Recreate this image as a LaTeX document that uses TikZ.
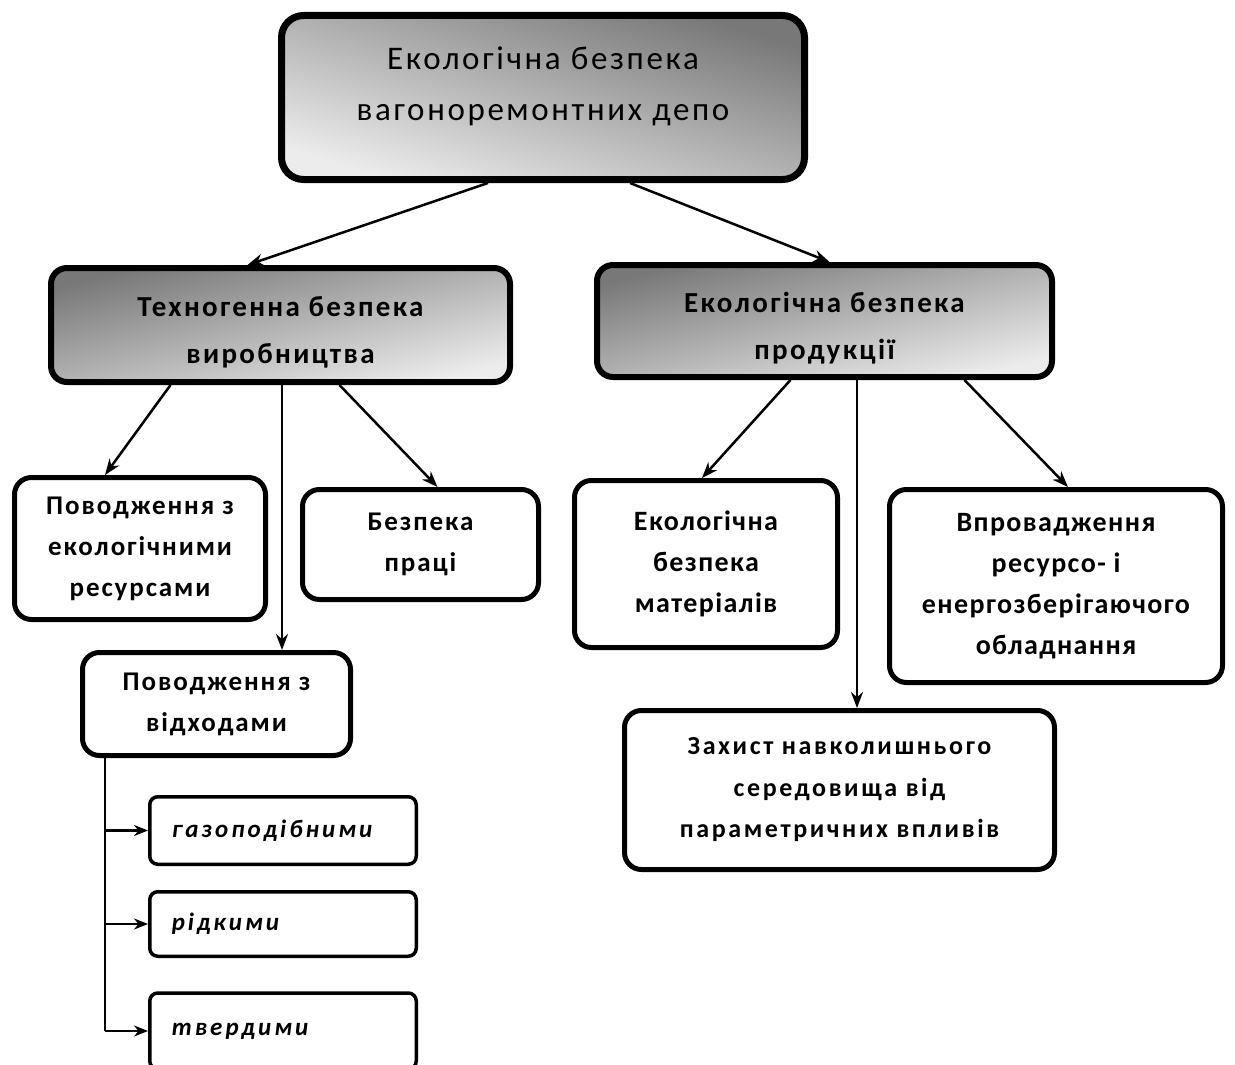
\documentclass[tikz,border=0pt]{standalone}
\usepackage{fontspec}
\setmainfont{Carlito}
\newfontfamily\titlefamily[LetterSpace=8]{Carlito}
\newfontfamily\headfamily[LetterSpace=8]{Carlito}
\newfontfamily\itemfamily[LetterSpace=7]{Carlito}
\newfontfamily\wideitemfamily[LetterSpace=5]{Carlito}
\newfontfamily\envfamily[LetterSpace=10]{Carlito}
\newfontfamily\kindfamily[LetterSpace=12]{Carlito}
\usetikzlibrary{arrows.meta}

\definecolor{shadedark}{RGB}{120,120,120}
\definecolor{shadelight}{RGB}{236,236,236}

\newcommand{\titlefont}{\titlefamily\fontsize{33}{51}\selectfont}
\newcommand{\headfont}{\headfamily\bfseries\fontsize{29}{47}\selectfont}
\newcommand{\itemfont}{\itemfamily\bfseries\fontsize{27}{41}\selectfont}
\newcommand{\wideitemfont}{\wideitemfamily\bfseries\fontsize{28}{41}\selectfont}
\newcommand{\envfont}{\envfamily\bfseries\fontsize{26}{41.5}\selectfont}
\newcommand{\kindfont}{\kindfamily\bfseries\itshape\fontsize{25}{30}\selectfont}

\tikzset{
    topbox/.style={draw, line width=7pt, rounded corners=22pt, top color=shadedark, bottom color=shadelight, shading angle=-17},
    headbox/.style={draw, line width=6pt, rounded corners=16pt, top color=shadedark, bottom color=shadelight, shading angle=14, align=center, font=\headfont},
    itembox/.style={draw, line width=5pt, rounded corners=17pt, fill=white, align=center, font=\itemfont},
    kindbox/.style={draw, line width=3.5pt, rounded corners=8pt, fill=white, align=left, inner xsep=22pt, text width=222.5pt, font=\kindfont},
    arr/.style={line width=2.5pt, -{Stealth[length=16pt, width=12pt]}},
    smallarr/.style={line width=2.5pt, -{Stealth[length=14pt, width=11pt]}}
}

\begin{document}
\begin{tikzpicture}[x=1pt, y=-1pt]
        \useasboundingbox (0, 0) rectangle (1235, 1065);

        \node [topbox, minimum width=523pt, minimum height=164pt] (top) at (543, 97.5) {};
        \node [font=\titlefont, align=center] (title) at (543, 86) {Екологічна безпека\\вагоноремонтних депо};

        \node [headbox, minimum width=459pt, minimum height=114pt, text height=81pt] (tech) at (280.5, 325) {Техногенна безпека\\виробництва};
        \node [headbox, minimum width=455pt, minimum height=112pt, text height=81pt] (prod) at (824.5, 321) {Екологічна безпека\\продукції};

        \node [itembox, minimum width=251pt, minimum height=142pt] (res) at (140, 548.5) {Поводження з\\екологічними\\ресурсами};
        \node [itembox, minimum width=236pt, minimum height=110pt] (labour) at (420.5, 544.5) {Безпека\\праці};
        \node [itembox, minimum width=268pt, minimum height=103pt] (waste) at (216.5, 704) {Поводження з\\відходами};

        \node [kindbox, minimum height=67.5pt] (gas) at (283, 830.5) {газоподібними};
        \node [kindbox, minimum height=64.5pt] (liquid) at (283, 924) {рідкими};
        \node [kindbox, minimum height=76pt] (solid) at (283, 1031) {твердими};

        \node [itembox, font=\wideitemfont, minimum width=263pt, minimum height=167pt] (mat) at (706, 564) {Екологічна\\безпека\\матеріалів};
        \node [itembox, font=\wideitemfont, minimum width=333pt, minimum height=193pt] (impl) at (1056, 586) {Впровадження\\ресурсо- і\\енергозберігаючого\\обладнання};
        \node [itembox, font=\envfont, minimum width=430pt, minimum height=159pt] (env) at (839.5, 790) {Захист навколишнього\\середовища від\\параметричних впливів};

        \draw [arr] ([xshift=-55pt]top.south) -- ([xshift=-33pt]tech.north);
        \draw [arr] ([xshift=87pt]top.south) -- ([xshift=5pt]prod.north);

        \draw [arr] ([xshift=-110pt]tech.south) -- ([xshift=-35pt]res.north);
        \draw [arr] ([xshift=1.5pt]tech.south) -- ([xshift=1.5pt]tech.south |- waste.north);
        \draw [arr] ([xshift=59pt]tech.south) -- ([xshift=17pt]labour.north);

        \draw [arr] ([xshift=-34pt]prod.south) -- ([xshift=-4pt]mat.north);
        \draw [arr] ([xshift=32.5pt]prod.south) -- ([xshift=32.5pt]prod.south |- env.north);
        \draw [arr] ([xshift=140pt]prod.south) -- ([xshift=12pt]impl.north);

        \coordinate (trunk) at ([xshift=-111.5pt]waste.south);
        \draw [line width=2.5pt] (trunk) |- ([xshift=-43pt]solid.west);
        \draw [smallarr] (trunk |- gas.west) -- (gas.west);
        \draw [smallarr] (trunk |- liquid.west) -- (liquid.west);
        \draw [smallarr] (trunk |- solid.west) -- (solid.west);
\end{tikzpicture}
\end{document}
